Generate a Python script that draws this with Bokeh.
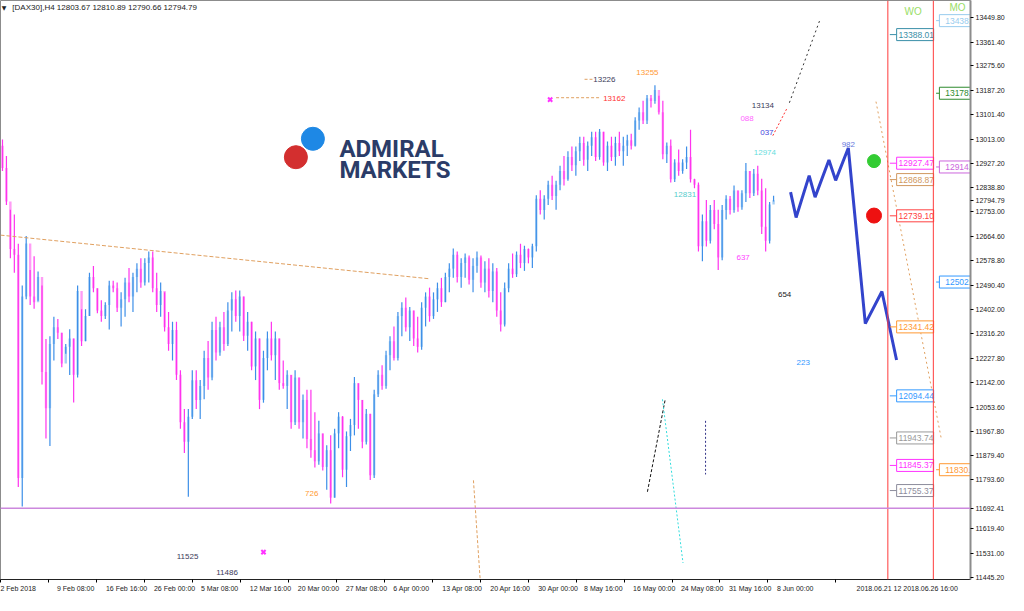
from bokeh.plotting import figure
from bokeh.models import ColumnDataSource, FixedTicker, Span, Range1d, CustomJSTickFormatter, NumeralTickFormatter
from bokeh.core.properties import value
from bokeh.embed import file_html
from bokeh.resources import INLINE

# ---------------- data (DAX30, H4) ----------------
FIRST_OPEN = 12990
closes = [12910, 12790, 12620, 12600, 11800, 12450, 12640, 12450, 12430, 12520,
          12180, 12050, 12280, 12340, 12320, 12210, 12270, 12300, 12170, 12470,
          12290, 12380, 12520, 12480, 12400, 12380, 12420, 12490, 12480, 12410,
          12440, 12500, 12450, 12520, 12550, 12500, 12570, 12590, 12480, 12420,
          12470, 12340, 12280, 12330, 12170, 12000, 11930, 12020, 12150, 12080,
          12130, 12230, 12160, 12330, 12250, 12340, 12280, 12400, 12440, 12380,
          12450, 12310, 12360, 12200, 12300, 12080, 12230, 12300, 12240, 12300,
          12140, 12130, 12170, 12000, 12160, 12000, 12080, 11940, 11900, 11860,
          11960, 11840, 11900, 11730, 11960, 12020, 11830, 11950, 11990, 12140,
          12080, 11930, 12030, 11810, 12100, 12170, 12130, 12240, 12290, 12230,
          12380, 12410, 12340, 12400, 12300, 12270, 12410, 12450, 12380, 12440,
          12480, 12430, 12520, 12550, 12600, 12520, 12570, 12590, 12510, 12560,
          12590, 12500, 12550, 12470, 12540, 12400, 12350, 12480, 12550, 12530,
          12600, 12570, 12620, 12590, 12630, 12800, 12760, 12800, 12850, 12810,
          12850, 12900, 12870, 12950, 12920, 12970, 13000, 12940, 12990, 13020,
          12950, 13040, 12930, 12990, 12950, 13000, 12970, 12990, 13010, 12990,
          13080, 13110, 13080, 13160, 13150, 13190, 13110, 12960, 12990, 12870,
          12930, 12900, 12930, 12950, 12870, 12850, 12630, 12720, 12650, 12760,
          12710, 12590, 12760, 12800, 12760, 12830, 12770, 12820, 12900, 12820,
          12890, 12830, 12700, 12650, 12780, 12794.79]
highs = [13012, 12953, 12761, 12744, 12639, 12490, 12667, 12545, 12594, 12540,
         12490, 12298, 12308, 12378, 12370, 12320, 12280, 12333, 12300, 12490,
         12405, 12405, 12535, 12559, 12480, 12437, 12430, 12507, 12507, 12500,
         12465, 12517, 12552, 12535, 12569, 12587, 12587, 12611, 12611, 12535,
         12500, 12465, 12395, 12360, 12360, 12186, 12047, 12047, 12186, 12186,
         12151, 12256, 12291, 12360, 12378, 12360, 12395, 12430, 12465, 12472,
         12472, 12450, 12395, 12360, 12325, 12300, 12256, 12325, 12360, 12325,
         12300, 12221, 12186, 12169, 12186, 12160, 12099, 12116, 12116, 12036,
         12005, 11960, 11918, 11953, 11977, 12036, 12022, 11967, 12012, 12162,
         12140, 12080, 12047, 12030, 12116, 12186, 12204, 12256, 12308, 12343,
         12395, 12430, 12447, 12413, 12400, 12378, 12430, 12465, 12482, 12465,
         12500, 12517, 12535, 12569, 12622, 12611, 12587, 12604, 12597, 12587,
         12611, 12597, 12576, 12587, 12569, 12552, 12465, 12500, 12569, 12604,
         12611, 12639, 12632, 12622, 12639, 12813, 12831, 12813, 12865, 12883,
         12865, 12918, 12953, 12970, 12987, 12987, 13022, 13022, 13005, 13040,
         13040, 13050, 13040, 13005, 13022, 13022, 13040, 13022, 13029, 13033,
         13092, 13127, 13151, 13172, 13172, 13207, 13169, 13151, 13002, 13012,
         12942, 12977, 12942, 12987, 13047, 12872, 12858, 12744, 12796, 12778,
         12796, 12761, 12778, 12813, 12810, 12848, 12830, 12831, 12928, 12900,
         12907, 12918, 12872, 12838, 12789, 12810.89]
lows = [12900, 12778, 12587, 12535, 11768, 11698, 12440, 12420, 12406, 12435,
        12135, 11942, 11915, 12221, 12298, 12197, 12245, 12169, 12071, 12160,
        12273, 12290, 12380, 12465, 12390, 12360, 12370, 12332, 12465, 12395,
        12343, 12378, 12430, 12395, 12465, 12482, 12490, 12500, 12465, 12395,
        12378, 12325, 12256, 12221, 12151, 11977, 11890, 11733, 12012, 12047,
        12012, 12082, 12116, 12150, 12221, 12238, 12256, 12273, 12325, 12360,
        12325, 12291, 12256, 12186, 12151, 12047, 12070, 12186, 12221, 12151,
        12116, 12120, 12047, 11977, 11990, 11977, 11942, 11907, 11873, 11838,
        11848, 11827, 11758, 11709, 11730, 11907, 11803, 11768, 11897, 11953,
        11977, 11907, 11920, 11793, 11800, 12090, 12116, 12120, 12186, 12221,
        12221, 12308, 12325, 12291, 12273, 12250, 12260, 12343, 12360, 12370,
        12395, 12413, 12430, 12465, 12517, 12500, 12482, 12517, 12493, 12465,
        12535, 12482, 12465, 12447, 12430, 12378, 12325, 12343, 12465, 12517,
        12520, 12552, 12542, 12569, 12552, 12611, 12744, 12726, 12778, 12796,
        12761, 12831, 12848, 12865, 12900, 12883, 12935, 12918, 12900, 12953,
        12935, 12940, 12918, 12900, 12935, 12918, 12953, 12918, 12953, 12977,
        12987, 13047, 13068, 13068, 13127, 13140, 13102, 12942, 12928, 12858,
        12860, 12883, 12890, 12907, 12858, 12838, 12611, 12576, 12629, 12640,
        12691, 12545, 12580, 12726, 12744, 12750, 12754, 12761, 12789, 12803,
        12810, 12813, 12674, 12611, 12640, 12790.66]
opens = [FIRST_OPEN] + closes[:-1]

date_labels = ["2 Feb 2018", "9 Feb 08:00", "16 Feb 16:00", "26 Feb 00:00", "5 Mar 08:00",
               "12 Mar 16:00", "20 Mar 00:00", "27 Mar 08:00", "6 Apr 00:00", "13 Apr 08:00",
               "20 Apr 16:00", "30 Apr 00:00", "8 May 16:00", "16 May 00:00", "24 May 08:00",
               "31 May 16:00", "8 Jun 00:00"]
price_ticks = [13449.80, 13361.40, 13275.60, 13187.20, 13101.40, 13013.00, 12927.20, 12838.80,
               12753.00, 12664.60, 12578.80, 12490.40, 12402.00, 12316.20, 12227.80, 12142.00,
               12053.60, 11967.80, 11879.40, 11793.60, 11705.20, 11619.40, 11531.00, 11445.20]

# projected wave path (bar index, price)
proj_x = [199.3, 200.7, 204.0, 205.5, 209.0, 210.7, 213.9, 218.2, 222.4, 226.1]
proj_y = [12824, 12733, 12883, 12806, 12939, 12866, 12982, 12353, 12468, 12223]

wo_values = [13388.01, 12927.47, 12868.87, 12739.10, 12341.42, 12094.44, 11943.74, 11845.37, 11755.37]
wo_colors = ["#3a8fa8", "#ff33ff", "#d09860", "#ff4040", "#ff9933", "#3399ff", "#999999", "#ff33ff", "#8c8c9c"]
mo_values = [13438.0, 13178.0, 12914.0, 12502.0, 11830.0]
mo_texts = ["13438.", "13178.", "12914.", "12502.", "11830."]
mo_colors = ["#99ccee", "#2e8b2e", "#cc66dd", "#3399ff", "#ff9933"]

LAST_PRICE = 12794.79
SUPPORT = 11692.41
BARS_PER_LABEL = 12.13
VLINE_DATES = "2018.06.21 12 2018.06.26 16:00"
VLINE_DATES_POS = 210.6

# ---------------- figure ----------------
n = len(closes)
xs = list(range(n))
up = [c >= o for o, c in zip(opens, closes)]
src = ColumnDataSource(dict(
    x=xs, high=highs, low=lows,
    top=[max(o, c) for o, c in zip(opens, closes)],
    bottom=[min(o, c) for o, c in zip(opens, closes)],
    wick=["#3d8fe8" if u else "#ff33ee" for u in up],
    body=["#a6cff5" if u else "#ff9cf5" for u in up],
))

p = figure(width=1008, height=595, output_backend="svg", toolbar_location=None,
           x_range=Range1d(-0.5, 244.8), y_range=Range1d(11436.9, 13510.1),
           y_axis_location="right", min_border=0, min_border_right=38, min_border_bottom=16)
p.background_fill_color = "white"
p.border_fill_color = "white"
p.outline_line_color = "#8c8c8c"
p.grid.visible = False

FONT = "Liberation Sans"

# price scale: regular ticks plus the last price and the support level
# (the 11705.20 tick is covered by the support label in the original)
y_ticks = [t for t in price_ticks if abs(t - SUPPORT) > 20] + [LAST_PRICE, SUPPORT]
p.yaxis.ticker = FixedTicker(ticks=y_ticks)
p.yaxis.formatter = NumeralTickFormatter(format="0.00")
p.yaxis.axis_line_color = "#8c8c8c"
p.yaxis.axis_line_width = 2
p.yaxis.major_tick_out = 3
p.yaxis.major_tick_in = 0
p.yaxis.minor_tick_line_color = None
p.yaxis.major_label_text_font = FONT
p.yaxis.major_label_text_font_size = "7px"
p.yaxis.major_label_text_color = "#222222"
p.yaxis.major_label_standoff = 2

tick_pos = [-0.5 + k * BARS_PER_LABEL for k in range(len(date_labels))]
x_names = date_labels + [VLINE_DATES]
x_ticks = tick_pos + [VLINE_DATES_POS]
p.xaxis.ticker = FixedTicker(ticks=x_ticks)
# labels start at their tick (MetaTrader style): lead with no-break spaces so the centred label sits right of the tick
p.xaxis.formatter = CustomJSTickFormatter(args=dict(names=x_names, tpos=x_ticks), code="""
    let best = -1, bd = 1e9;
    for (let i = 0; i < tpos.length; i++) {
        const d = Math.abs(tpos[i] - tick);
        if (d < bd) { bd = d; best = i; }
    }
    if (best < 0 || bd > 0.01) return "";
    const s = names[best];
    if (best == 0) return s;
    return "\\u00a0".repeat(Math.round(s.length * 2.4) + 2) + s;
""")
p.xaxis.axis_line_color = "#222222"
p.xaxis.major_tick_out = 3
p.xaxis.major_tick_in = 0
p.xaxis.minor_tick_line_color = None
p.xaxis.major_label_text_font = FONT
p.xaxis.major_label_text_font_size = "7px"
p.xaxis.major_label_text_color = "#222222"
p.xaxis.major_label_standoff = 2

# vertical red markers and support line
p.add_layout(Span(location=223.9, dimension="height", line_color="#ff3b3b", line_width=1))
p.add_layout(Span(location=235.4, dimension="height", line_color="#ff3b3b", line_width=1))
p.add_layout(Span(location=SUPPORT, dimension="width", line_color="#cc88dd", line_width=1.5))

# logo
p.scatter([78.5], [13015], size=23, color="#1e88e5")
p.scatter([74.2], [12949], size=23, color="#d32f2f")
p.text([85.2, 85.2], [12980, 12904], text=["ADMIRAL", "MARKETS"], text_font=value("Roboto"),
       text_font_style="bold", text_font_size="24px", text_color="#2b3c68",
       text_baseline="alphabetic", text_align="left")

# candles
p.vbar(x="x", width=0.6, top="top", bottom="bottom", fill_color="body", line_color=None, source=src)
p.segment(x0="x", y0="low", x1="x", y1="high", line_color="wick", line_width=1.2, source=src)

# dashed / dotted drawings
lines = [
    ([-0.5, 107.8], [12670, 12514], "#e0a060", "4 2"),
    ([147.2, 149.2], [13228, 13228], "#e0a060", "3 2"),
    ([140.0, 150.9], [13162, 13162], "#e0a060", "3 2"),
    ([199.0, 206.7], [13144, 13440], "#333333", "2 3"),
    ([194.8, 198.5], [13026, 13127], "#ff3333", "2 2"),
    ([220.9, 237.4], [13148, 11942], "#e0a060", "2 3"),
    ([163.1, 167.6], [11751, 12082], "#111111", "3 2"),
    ([166.9, 172.1], [12082, 11496], "#33dddd", "2 2"),
    ([119.1, 120.8], [11792, 11437], "#e0a060", "3 2"),
    ([177.8, 177.8], [12005, 11813], "#333388", "2 2"),
]
for lx, ly, lc, ld in lines:
    p.line(lx, ly, line_color=lc, line_dash=ld, line_width=1)

p.scatter([138.5, 66.0], [13155, 11535], marker="x", size=6, line_color="#ff33ff", line_width=2)

# projected path
p.line(proj_x, proj_y, line_color="#3344cc", line_width=3)

# signal dots
p.scatter([220.4], [12935], size=13, color="#33cc33")
p.scatter([220.4], [12740], size=15, color="#ee1111")

# annotation numbers
ann = [
    ("13226", 149.4, 13228, "#3b3b5a", "left"),
    ("13162", 151.9, 13158, "#ff3333", "left"),
    ("13255", 163.1, 13252, "#ff9933", "center"),
    ("13134", 192.3, 13134, "#3b3b5a", "center"),
    ("088", 188.3, 13088, "#ff66ff", "center"),
    ("037", 193.3, 13037, "#4444dd", "center"),
    ("12974", 192.8, 12966, "#66dddd", "center"),
    ("12831", 172.6, 12817, "#55cccc", "center"),
    ("637", 187.3, 12590, "#ff44ff", "center"),
    ("654", 197.8, 12458, "#222222", "center"),
    ("223", 202.5, 12214, "#3399ff", "center"),
    ("726", 78.2, 11744, "#ff9933", "center"),
    ("11525", 46.8, 11521, "#3b3b5a", "center"),
    ("11486", 56.8, 11461, "#3b3b5a", "center"),
    ("982", 213.9, 12994, "#6677dd", "center"),
]
for t, ax, ay, ac, al in ann:
    p.text([ax], [ay], text=[t], text_font=value(FONT), text_font_size="8px", text_color=ac,
           text_align=al, text_baseline="middle")

# WO column boxes
for v, c in zip(wo_values, wo_colors):
    p.segment([224.4], [v], [226.1], [v], line_color=c, line_width=1)
    p.rect([230.8], [v], width=37, height=12, width_units="screen", height_units="screen",
           fill_color="white", line_color=c, line_width=1)
    p.text([226.6], [v], text=[f"{v:.2f}"], text_font=value(FONT), text_font_size="8.5px",
           text_color=c, text_align="left", text_baseline="middle")
# MO column boxes (run into the price scale, so they are cut at the frame edge)
for v, t, c in zip(mo_values, mo_texts, mo_colors):
    p.segment([236.1], [v], [237.9], [v], line_color=c, line_width=1)
    p.rect([242.5], [v], width=44, height=12, width_units="screen", height_units="screen",
           fill_color="white", line_color=c, line_width=1)
    p.text([238.4], [v], text=[t], text_font=value(FONT), text_font_size="8.5px",
           text_color=c, text_align="left", text_baseline="middle")

p.text([230.3, 241.5], [13470, 13484], text=["WO", "MO"], text_font=value(FONT),
       text_font_size="10px", text_color="#99dd66", text_align="center", text_baseline="middle")

# header
p.text([-0.2], [13486], text=["\u25bc"], text_font=value("DejaVu Sans"), text_font_size="6px",
       text_color="#222222", text_align="left", text_baseline="middle")
p.text([2.5], [13486], text=["[DAX30],H4  12803.67 12810.89 12790.66 12794.79"],
       text_font=value(FONT), text_font_size="8px", text_color="#222222",
       text_align="left", text_baseline="middle")

open("out.html", "w").write(file_html(p, INLINE))
